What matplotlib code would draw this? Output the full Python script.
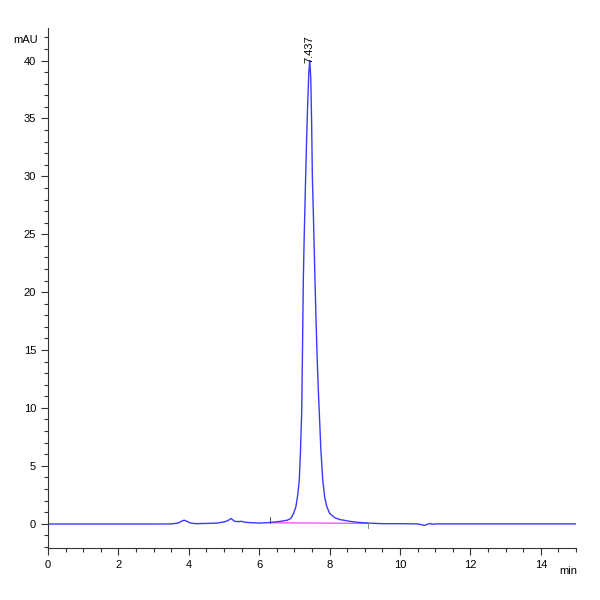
import matplotlib
matplotlib.use("Agg")
import matplotlib.pyplot as plt
from matplotlib.ticker import MultipleLocator

plt.rcParams['font.family'] = ['Liberation Sans', 'DejaVu Sans']

# Chromatogram trace (time in min, signal in mAU)
time = [0, 1, 2, 3, 3.5, 3.7, 3.8, 3.87, 3.95, 4.05, 4.2, 4.5, 4.8, 5.0,
        5.1, 5.2, 5.3, 5.4, 5.5, 5.6, 5.8, 6.0, 6.3, 6.6, 6.8, 6.9, 6.98,
        7.045, 7.1, 7.139, 7.17, 7.207, 7.23, 7.253, 7.28, 7.32, 7.35,
        7.38, 7.41, 7.437, 7.465, 7.49, 7.51, 7.545, 7.585, 7.62, 7.65,
        7.68, 7.707, 7.75, 7.804, 7.86, 7.918, 8.0, 8.153, 8.3, 8.58, 8.8,
        9.1, 9.5, 10.0, 10.5, 10.6, 10.7, 10.78, 10.85, 10.92, 11.0, 11.5,
        12, 13, 14, 15]
signal = [-0.03, -0.03, -0.03, -0.03, -0.02, 0.05, 0.22, 0.3, 0.2, 0.05,
          0.0, 0.02, 0.05, 0.15, 0.25, 0.45, 0.2, 0.18, 0.2, 0.12, 0.08,
          0.05, 0.1, 0.2, 0.3, 0.45, 0.9, 1.5, 2.6, 3.8, 6.0, 9.6, 15.0,
          21.0, 25.0, 30.0, 33.5, 36.5, 39.0, 40.0, 38.5, 34.5, 30.0, 26.0,
          21.0, 17.0, 14.0, 11.5, 9.6, 6.5, 3.8, 2.3, 1.5, 0.9, 0.5, 0.35,
          0.2, 0.12, 0.05, 0.0, 0.0, -0.02, -0.08, -0.15, -0.05, 0.02,
          -0.05, -0.02, -0.02, -0.02, -0.02, -0.02, -0.02]

# Integration baseline of the main peak
base_t = [6.3, 9.1]
base_y = [0.08, 0.02]

peak_time = 7.437
peak_height = 40.0

fig = plt.figure(figsize=(6, 6), dpi=100)
ax = fig.add_axes([0.08, 0.0867, 0.88, 0.8663])

ax.plot(base_t, base_y, color="#ff55ff", lw=1.0, zorder=1)
ax.plot(time, signal, color="#3a3aff", lw=1.0, zorder=2)

# baseline start / end marks
ax.plot([base_t[0], base_t[0]], [base_y[0], base_y[0] + 0.5], color="#555555", lw=0.7)
ax.plot([base_t[1], base_t[1]], [base_y[1], base_y[1] - 0.4], color="#888888", lw=0.7)

ax.text(peak_time, peak_height - 0.2, f"{peak_time:.3f}", rotation=90,
        ha="center", va="bottom", fontsize=8)

ax.set_xlim(0, 15)
ax.set_ylim(-2.1, 42.8)
ax.xaxis.set_major_locator(MultipleLocator(2))
ax.xaxis.set_minor_locator(MultipleLocator(0.5))
ax.yaxis.set_major_locator(MultipleLocator(5))
ax.yaxis.set_minor_locator(MultipleLocator(1))
ax.set_xticks(range(0, 15, 2))

for s in ["top", "right"]:
    ax.spines[s].set_visible(False)
for s in ["left", "bottom"]:
    ax.spines[s].set_color("#333333")
    ax.spines[s].set_linewidth(0.8)

ax.tick_params(which="major", length=5, width=0.8, labelsize=8, color="#333333")
ax.tick_params(which="minor", length=3, width=0.8, color="#333333")

ax.text(-0.02, 41.8, "mAU", ha="right", va="center", fontsize=8,
        transform=ax.get_yaxis_transform())
ax.text(0.985, -0.035, "min", ha="center", va="top", fontsize=8,
        transform=ax.transAxes)

fig.savefig("out.png", dpi=100)
